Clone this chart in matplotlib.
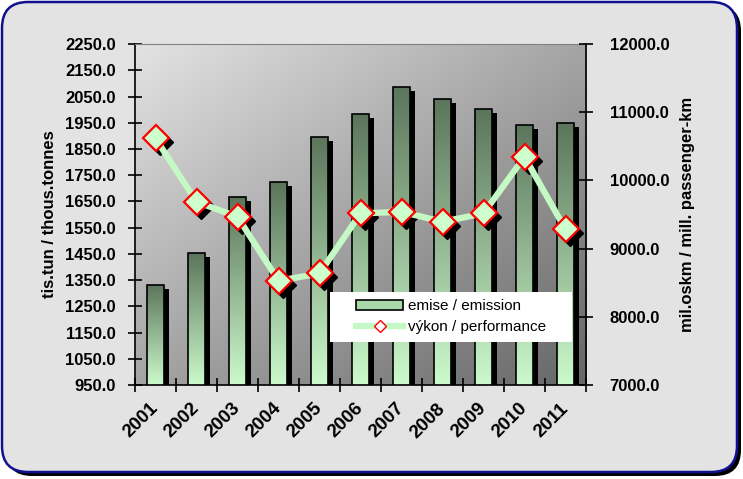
import numpy as np
import matplotlib
matplotlib.use('Agg')
import matplotlib.pyplot as plt
from matplotlib.patches import FancyBboxPatch, Patch, Rectangle
from matplotlib.lines import Line2D
from matplotlib.transforms import offset_copy, IdentityTransform
from matplotlib.ticker import FormatStrFormatter, FixedLocator

# data
years = ['2001', '2002', '2003', '2004', '2005', '2006',
         '2007', '2008', '2009', '2010', '2011']
emise = [1333, 1452, 1666, 1723, 1897, 1982, 2087, 2041, 2001, 1942, 1950]
vykon = [10617, 9688, 9468, 8529, 8637, 9517, 9541, 9395, 9517, 10348, 9283]

y1_ticks = np.arange(950, 2251, 100)
y2_ticks = np.arange(7000, 12001, 1000)

plt.rcParams['font.family'] = ['Liberation Sans', 'DejaVu Sans']

fig = plt.figure(figsize=(7.43, 4.79), dpi=100)
fig.patch.set_facecolor('white')

# rounded frame with shadow (pixel coords)
shadow = FancyBboxPatch((6, 3), 735, 471, boxstyle='round,pad=0,rounding_size=26',
                        transform=IdentityTransform(), facecolor='black',
                        edgecolor='none', zorder=0)
frame = FancyBboxPatch((2, 7), 735, 470, boxstyle='round,pad=0,rounding_size=26',
                       transform=IdentityTransform(), facecolor='#e3e3e3',
                       edgecolor='#101090', linewidth=1.8, zorder=1)
fig.add_artist(shadow)
fig.add_artist(frame)

ax = fig.add_axes([0.1817, 0.196, 0.607, 0.712])
ax.set_zorder(2)

n = len(years)
x = np.arange(n) + 0.5
ymin, ymax = y1_ticks[0], y1_ticks[-1]

# diagonal grey gradient for the plot area
u, v = np.meshgrid(np.linspace(0, 1, 200), np.linspace(1, 0, 200))
t = (u + (1 - v)) / 2
light = np.array([0.89, 0.89, 0.89])
dark = np.array([0.40, 0.40, 0.40])
bg = light[None, None, :] * (1 - t[..., None]) + dark[None, None, :] * t[..., None]
ax.imshow(bg, extent=(0, 1, 0, 1), transform=ax.transAxes, aspect='auto', zorder=0)

# bar shadows
off = offset_copy(ax.transData, fig=fig, x=5, y=-4, units='dots')
ax.bar(x, emise, width=0.4, color='black', transform=off, zorder=1)

# bars with vertical gradient
bars = ax.bar(x, emise, width=0.4, facecolor='none', edgecolor='black',
              linewidth=1.2, zorder=3)
top_c = np.array([0.36, 0.46, 0.36])
bot_c = np.array([0.80, 0.98, 0.80])
s = np.linspace(0, 1, 100)[:, None]
grad = (top_c * (1 - s) + bot_c * s)[:, None, :]
for b in bars:
    x0 = b.get_x()
    im = ax.imshow(grad, extent=(x0, x0 + b.get_width(), ymin, b.get_height()),
                   aspect='auto', zorder=2)
    im.set_clip_path(b)

ax.set_xlim(0, n)
ax.set_ylim(ymin, ymax)
ax.set_yticks(y1_ticks)
ax.yaxis.set_major_formatter(FormatStrFormatter('%.1f'))
ax.tick_params(axis='y', direction='inout', length=10, width=1.2, pad=9,
               labelsize=12)
ax.xaxis.set_major_locator(FixedLocator(np.arange(n + 1)))
ax.xaxis.set_minor_locator(FixedLocator(x))
ax.set_xticklabels([], minor=False)
ax.set_xticklabels(years, minor=True)
ax.tick_params(axis='x', which='major', direction='inout', length=10, width=1.2)
ax.tick_params(axis='x', which='minor', length=0, pad=15, labelsize=13.5)
for lab in ax.get_xticklabels(minor=True):
    lab.set_rotation(45)
    lab.set_ha('right')
    lab.set_va('center')
    lab.set_rotation_mode('anchor')
    lab.set_fontweight('bold')
for lab in ax.get_yticklabels():
    lab.set_fontweight('bold')
ax.spines['left'].set_linewidth(1.2)
ax.spines['bottom'].set_linewidth(1.2)
ax.spines['top'].set_color('#808080')
ax.spines['right'].set_visible(False)
ax.set_ylabel('tis.tun / thous.tonnes', fontsize=12, fontweight='bold', labelpad=6)

# second axis with the line
ax2 = ax.twinx()
ax2.set_ylim(y2_ticks[0], y2_ticks[-1])
off2 = offset_copy(ax2.transData, fig=fig, x=4, y=-4, units='dots')
ax2.plot(x, vykon, ls='none', marker='D', ms=13, color='black',
         transform=off2, zorder=1)
ax2.plot(x, vykon, color='#c4f8c4', lw=4.5, marker='D', ms=13,
         mfc='#ccffcc', mec='red', mew=1.6, zorder=2)
ax2.set_yticks(y2_ticks)
ax2.yaxis.set_major_formatter(FormatStrFormatter('%.1f'))
ax2.tick_params(axis='y', direction='inout', length=10, width=1.2, pad=12,
                labelsize=12)
for lab in ax2.get_yticklabels():
    lab.set_fontweight('bold')
for sp in ['left', 'bottom', 'top']:
    ax2.spines[sp].set_visible(False)
ax2.spines['right'].set_linewidth(1.2)
ax2.set_ylabel('mil.oskm / mill. passenger-km', fontsize=12, fontweight='bold',
               labelpad=8)

# white legend box
ax2.add_patch(Rectangle((0.432, 0.127), 0.537, 0.147, transform=ax2.transAxes,
                        facecolor='white', edgecolor='none', zorder=4))
handles = [Patch(facecolor='#a8d8a8', edgecolor='black', linewidth=1.2),
           Line2D([], [], color='#c4f8c4', lw=4.5, marker='D', ms=6,
                  mfc='white', mec='red', mew=1)]
leg = ax2.legend(handles, ['emise / emission', 'výkon / performance'],
                 loc='center left', bbox_to_anchor=(0.49, 0.2),
                 fontsize=11, frameon=False, handlelength=3.1,
                 handleheight=0.6, labelspacing=0.45, handletextpad=0.3,
                 borderaxespad=0, borderpad=0)
leg.set_zorder(5)

fig.savefig('out.png', dpi=100)
